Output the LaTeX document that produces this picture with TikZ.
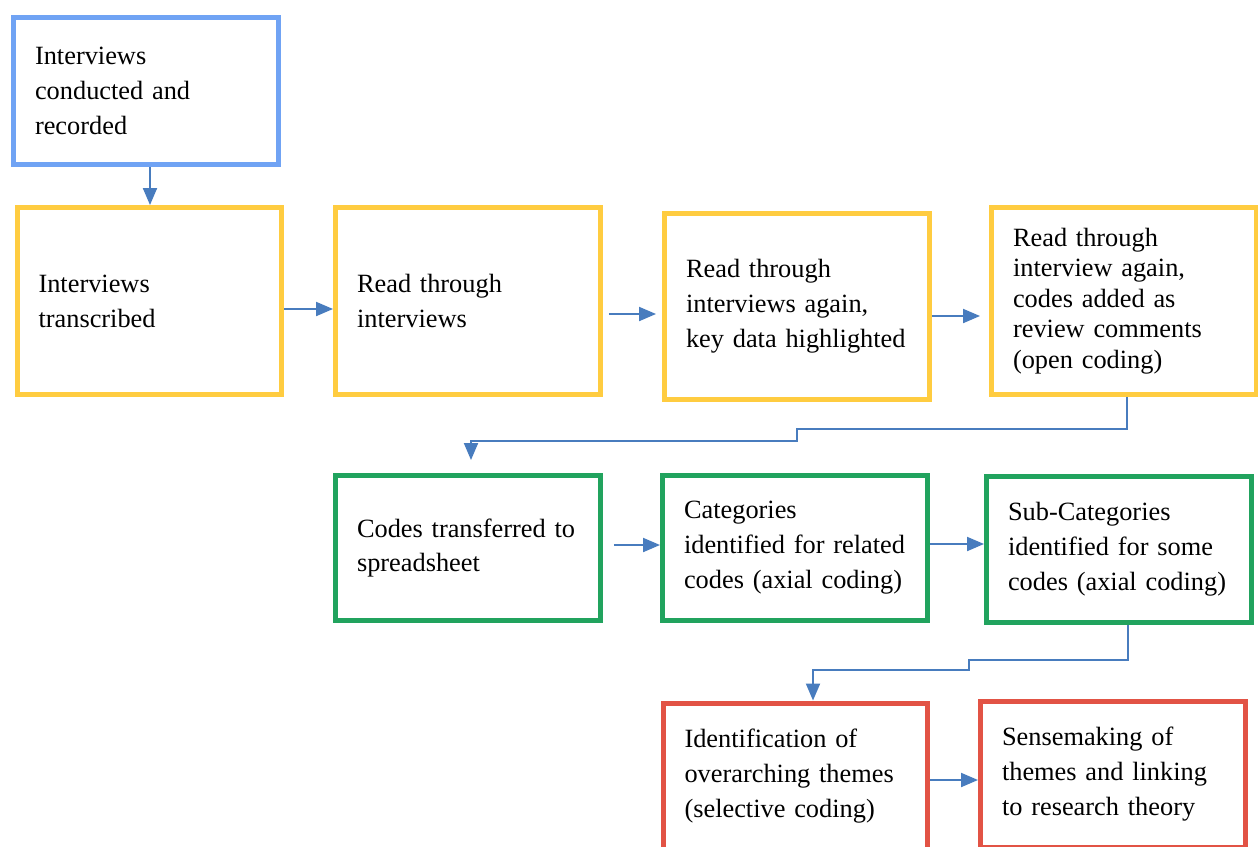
\documentclass[tikz,border=0pt]{standalone}
\usepackage{fontspec}
\setmainfont{Liberation Serif}
\usetikzlibrary{arrows.meta, calc}

\definecolor{boxblue}{RGB}{112,163,244}
\definecolor{boxyellow}{RGB}{255,204,64}
\definecolor{boxgreen}{RGB}{33,163,94}
\definecolor{boxred}{RGB}{226,83,69}
\definecolor{linkblue}{RGB}{72,124,190}

\begin{document}
\begin{tikzpicture}[
    x=0.02cm, y=-0.02cm,    % 1 unit = 1 px of the layout
    >={Triangle[length=0.34cm, width=0.28cm]},
    font=\fontsize{15}{19.9}\selectfont,
    box/.style={draw, rectangle, line width=0.1cm, minimum width=5.3cm,
                text width=4.44cm, inner xsep=0.43cm, align=left},
    link/.style={->, draw=linkblue, line width=0.04cm}
]
    \useasboundingbox (0,0) rectangle (1258,846);

    % --- start ---
    \node [box, draw=boxblue, minimum height=2.94cm] (intv) at (146,91)
        {Interviews\\conducted and\\recorded};

    % --- row 1 (yellow) ---
    \node [box, draw=boxyellow, minimum height=3.74cm] (trans) at (149.5,301)
        {Interviews\\transcribed};
    \node [box, draw=boxyellow, minimum height=3.74cm] (read1) at (468,301)
        {Read through\\interviews};
    \node [box, draw=boxyellow, minimum height=3.74cm] (read2) at (797,306.5)
        {Read through\\interviews again,\\key data highlighted};
    \node [box, draw=boxyellow, minimum height=3.74cm,
           font=\fontsize{15}{17.4}\selectfont] (read3) at (1124,301)
        {Read through\\interview again,\\codes added as\\review comments\\(open coding)};

    % --- row 2 (green) ---
    \node [box, draw=boxgreen, minimum height=2.92cm] (codes) at (468,548)
        {Codes transferred to\\spreadsheet};
    \node [box, draw=boxgreen, minimum height=2.92cm] (cats) at (795,548)
        {Categories\\identified for related\\codes (axial coding)};
    \node [box, draw=boxgreen, minimum height=2.92cm] (subcats) at (1119,549.5)
        {Sub-Categories\\identified for some\\codes (axial coding)};

    % --- row 3 (red) ---
    \node [box, draw=boxred, minimum height=2.92cm] (themes) at (795.5,776)
        {Identification of\\overarching themes\\(selective coding)};
    \node [box, draw=boxred, minimum height=2.92cm] (sense) at (1113,774)
        {Sensemaking of\\themes and linking\\to research theory};

    % --- connectors ---
    \draw [link] (intv.south -| 150,0) -- (trans.north -| 150,0);
    \draw [link] (trans.east |- 0,309) -- (read1.west |- 0,309);
    \draw [link, shorten <=0.12cm, shorten >=0.12cm] (read1.east |- 0,314) -- (read2.west |- 0,314);
    \draw [link, shorten >=0.18cm] (read2.east |- 0,316) -- (read3.west |- 0,316);

    \draw [link, shorten >=0.25cm] (read3.south -| 1127,0) |- (797,429) |- (471,441) -- (codes.north -| 471,0);

    \draw [link, shorten <=0.22cm] (codes.east |- 0,545) -- (cats.west |- 0,545);
    \draw [link] (cats.east |- 0,544) -- (subcats.west |- 0,544);

    \draw [link] (subcats.south -| 1128,0) |- (969,660) |- (813,670) -- (themes.north -| 813,0);

    \draw [link] (themes.east |- 0,780) -- (sense.west |- 0,780);

\end{tikzpicture}
\end{document}
